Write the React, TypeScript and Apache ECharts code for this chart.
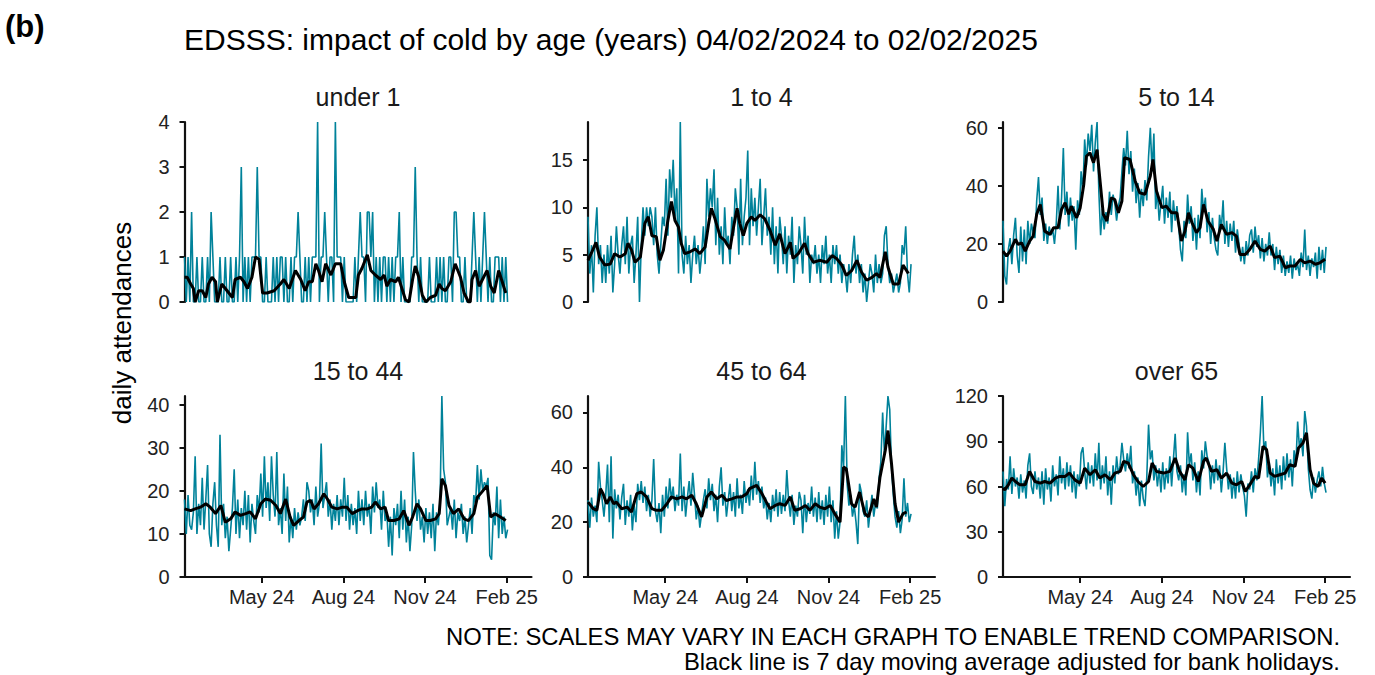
import React, { useEffect, useRef } from "react";
import * as echarts from "echarts";

// ---------- data ----------
const START_DATE = "2024-02-04";
const STEP_DAYS = 2; // daily series sampled every 2 days
const X_MAX_DAY = 391;
const X_TICK_DATES = ["2024-05-01", "2024-08-01", "2024-11-01", "2025-02-01"];
const MONTHS = ["Jan", "Feb", "Mar", "Apr", "May", "Jun", "Jul", "Aug", "Sep", "Oct", "Nov", "Dec"];

const PANEL_TITLES = ["under 1", "1 to 4", "5 to 14", "15 to 44", "45 to 64", "over 65"];
const Y_MAX = [4, 19, 62, 42, 66, 120];
const Y_TICKS = [
  [0, 1, 2, 3, 4],
  [0, 5, 10, 15],
  [0, 20, 40, 60],
  [0, 10, 20, 30, 40],
  [0, 20, 40, 60],
  [0, 30, 60, 90, 120],
];

const DAILY_UNDER_1 = [
  1, 0, 1, 0, 2, 0, 0, 1, 0, 0, 1, 0, 0, 1, 0, 2, 1, 0, 0, 0,
  1, 0, 0, 1, 0, 0, 1, 0, 0, 1, 0, 1, 3, 0, 1, 0, 1, 0, 1, 1,
  1, 3, 1, 1, 0, 0, 1, 0, 0, 0, 1, 0, 1, 0, 1, 1, 0, 1, 0, 0,
  1, 0, 1, 1, 2, 1, 0, 0, 1, 0, 1, 0, 1, 1, 1, 4, 0, 1, 1, 2,
  1, 0, 1, 1, 0, 4, 1, 1, 1, 0, 1, 0, 0, 0, 0, 0, 1, 0, 1, 2,
  1, 1, 0, 2, 2, 1, 2, 0, 1, 0, 1, 0, 1, 1, 0, 1, 0, 1, 0, 1,
  1, 2, 0, 1, 0, 0, 0, 0, 1, 1, 3, 1, 0, 1, 0, 0, 0, 0, 1, 0,
  0, 0, 1, 0, 1, 0, 1, 0, 0, 1, 1, 0, 2, 2, 1, 1, 0, 0, 1, 0,
  0, 0, 1, 2, 1, 0, 1, 0, 1, 2, 1, 0, 1, 0, 0, 1, 1, 1, 0, 1,
  0, 1, 0,
];
const DAILY_1_TO_4 = [
  9, 3, 6, 1, 7, 10, 4, 6, 2, 5, 2, 6, 3, 7, 1, 4, 8, 5, 3, 6,
  8, 4, 9, 3, 6, 7, 2, 5, 9, 0, 6, 10, 7, 10, 8, 10, 9, 6, 10, 5,
  3, 6, 9, 8, 13, 7, 14, 11, 15, 9, 12, 3, 19, 5, 3, 7, 4, 6, 2, 5,
  7, 4, 6, 3, 5, 8, 4, 13, 9, 12, 10, 14, 6, 11, 5, 8, 4, 10, 6, 7,
  4, 9, 7, 12, 10, 5, 13, 6, 9, 11, 16, 6, 12, 8, 11, 7, 10, 13, 6, 9,
  12, 7, 9, 5, 10, 4, 8, 3, 9, 7, 4, 8, 3, 7, 5, 9, 2, 6, 4, 8,
  6, 3, 9, 5, 7, 2, 5, 4, 6, 3, 5, 2, 6, 4, 7, 3, 5, 2, 6, 4,
  6, 3, 5, 2, 4, 3, 1, 4, 2, 5, 7, 3, 5, 2, 4, 1, 3, 0, 2, 4,
  3, 1, 5, 2, 4, 2, 3, 7, 8, 4, 2, 3, 1, 2, 3, 1, 2, 6, 5, 8,
  3, 1, 4,
];
const DAILY_5_TO_14 = [
  28, 9, 6, 18, 22, 13, 23, 29, 16, 10, 26, 14, 25, 13, 28, 20, 27, 24, 22, 35,
  43, 30, 36, 21, 27, 20, 26, 23, 25, 20, 27, 40, 25, 36, 53, 30, 38, 26, 36, 28,
  33, 18, 35, 30, 45, 38, 56, 47, 58, 52, 61, 45, 55, 62, 38, 23, 32, 25, 31, 27,
  38, 30, 37, 34, 28, 33, 36, 45, 53, 47, 59, 44, 52, 38, 46, 34, 41, 29, 39, 33,
  42, 35, 50, 60, 45, 58, 32, 38, 28, 34, 40, 27, 36, 29, 38, 24, 35, 28, 33, 26,
  18, 14, 28, 22, 37, 27, 33, 21, 29, 18, 30, 22, 39, 31, 36, 24, 31, 20, 29, 22,
  18, 16, 30, 25, 35, 20, 28, 19, 27, 21, 28, 17, 25, 20, 14, 19, 13, 21, 16, 23,
  25, 17, 26, 19, 23, 15, 22, 14, 20, 16, 24, 16, 20, 11, 19, 13, 18, 10, 16, 9,
  14, 10, 16, 8, 15, 11, 13, 9, 17, 12, 25, 11, 16, 9, 15, 12, 17, 8, 19, 11,
  18, 10, 19,
];
const DAILY_15_TO_44 = [
  18, 10, 19, 12, 11, 15, 28, 10, 17, 12, 23, 11, 18, 26, 10, 7, 17, 22, 12, 7,
  33, 12, 17, 9, 14, 6, 11, 16, 25, 10, 18, 9, 16, 12, 20, 11, 19, 8, 17, 13,
  10, 19, 15, 24, 14, 28, 16, 22, 13, 28, 19, 14, 29, 12, 16, 10, 24, 13, 21, 8,
  14, 9, 16, 11, 15, 12, 14, 18, 13, 22, 20, 15, 18, 12, 21, 14, 17, 31, 16, 19,
  22, 14, 18, 11, 17, 13, 19, 12, 18, 14, 23, 13, 19, 11, 17, 12, 16, 10, 20, 13,
  18, 12, 20, 14, 17, 10, 21, 15, 22, 16, 18, 11, 20, 13, 15, 7, 14, 5, 16, 12,
  17, 9, 20, 11, 18, 8, 14, 6, 12, 29, 20, 13, 18, 11, 14, 8, 16, 10, 15, 9,
  17, 6, 15, 12, 18, 42, 25, 22, 12, 14, 16, 11, 18, 9, 15, 13, 17, 10, 14, 8,
  12, 16, 10, 19, 17, 26, 18, 25, 20, 22, 21, 23, 5, 4, 15, 12, 21, 9, 18, 10,
  14, 9, 11,
];
const DAILY_45_TO_64 = [
  28, 18, 29, 22, 26, 20, 42, 33, 28, 22, 30, 41, 20, 44, 14, 32, 25, 30, 21, 29,
  34, 19, 28, 22, 30, 17, 26, 20, 34, 28, 35, 27, 33, 24, 30, 22, 28, 43, 24, 20,
  27, 16, 30, 22, 33, 25, 36, 28, 33, 24, 30, 26, 45, 24, 33, 22, 29, 35, 26, 38,
  30, 21, 26, 18, 23, 28, 32, 25, 36, 28, 34, 24, 30, 20, 33, 40, 26, 31, 22, 28,
  34, 24, 31, 22, 36, 25, 30, 23, 35, 27, 32, 26, 37, 28, 42, 30, 35, 27, 33, 25,
  29, 21, 27, 20, 30, 24, 32, 22, 31, 23, 30, 24, 39, 28, 22, 30, 19, 26, 22, 31,
  28, 16, 30, 20, 27, 23, 33, 22, 29, 20, 31, 21, 28, 19, 30, 22, 33, 20, 28, 14,
  24, 14, 20, 48, 40, 66, 34, 26, 30, 22, 26, 20, 12, 34, 31, 24, 22, 28, 18, 24,
  30, 22, 27, 25, 36, 42, 60, 45, 55, 66, 61, 40, 30, 22, 18, 24, 16, 21, 36, 22,
  27, 20, 23,
];
const DAILY_OVER_65 = [
  70, 47, 65, 58, 80, 55, 72, 60, 66, 52, 68, 56, 64, 52, 74, 82, 60, 55, 70, 58,
  66, 52, 70, 48, 72, 58, 66, 50, 74, 60, 68, 54, 80, 62, 72, 58, 76, 60, 74, 56,
  70, 52, 68, 60, 82, 86, 70, 58, 76, 62, 74, 60, 82, 64, 89, 58, 74, 62, 80, 54,
  70, 48, 74, 62, 80, 68, 74, 89, 78, 70, 82, 72, 87, 62, 70, 54, 66, 47, 64, 52,
  47, 66, 101, 78, 84, 64, 74, 60, 72, 56, 76, 58, 72, 62, 80, 60, 78, 95, 70, 64,
  74, 56, 68, 54, 96, 74, 82, 64, 76, 56, 70, 54, 84, 72, 90, 80, 76, 58, 74, 62,
  78, 64, 74, 56, 70, 89, 72, 58, 68, 52, 66, 52, 70, 56, 68, 60, 54, 40, 62, 58,
  70, 56, 72, 64, 78, 96, 120, 84, 90, 66, 76, 60, 72, 54, 78, 62, 74, 58, 80, 64,
  82, 66, 78, 60, 84, 74, 103, 86, 92, 80, 110, 100, 72, 58, 52, 66, 56, 64, 70, 60,
  73, 62, 56,
];

// 7 day moving average: [day since start, value]
const MA_UNDER_1 = [
  [0, 0.55], [3, 0.55], [7, 0.4], [10, 0.3], [12, 0.0], [16, 0.25], [20, 0.25], [24, 0.1], [27, 0.4], [31, 0.55],
  [35, 0.45], [37, 0.0], [42, 0.4], [48, 0.25], [54, 0.1], [57, 0.5], [63, 0.55], [67, 0.45], [71, 0.3], [76, 0.55],
  [80, 1.0], [84, 0.95], [88, 0.2], [93, 0.2], [101, 0.25], [108, 0.4], [112, 0.5], [118, 0.3], [125, 0.7], [131, 0.5],
  [136, 0.25], [140, 0.45], [144, 0.45], [148, 0.85], [151, 0.7], [155, 0.45], [159, 0.85], [165, 0.6], [170, 0.85], [176, 0.85],
  [180, 0.45], [185, 0.1], [193, 0.1], [196, 0.6], [200, 0.75], [206, 1.05], [210, 0.7], [215, 0.6], [221, 0.5], [225, 0.6],
  [228, 0.35], [232, 0.5], [238, 0.45], [241, 0.55], [245, 0.3], [249, 0.05], [253, 0.0], [257, 0.5], [260, 0.8], [264, 0.55],
  [268, 0.15], [272, 0.0], [277, 0.1], [283, 0.15], [287, 0.4], [290, 0.3], [294, 0.25], [300, 0.45], [305, 0.85], [311, 0.55],
  [315, 0.2], [320, 0.0], [322, 0.0], [324, 0.5], [328, 0.7], [332, 0.35], [337, 0.55], [341, 0.7], [345, 0.35], [349, 0.2],
  [354, 0.7], [358, 0.45], [362, 0.2],
];
const MA_1_TO_4 = [
  [0, 4.4], [4, 5.2], [9, 6.3], [13, 4.75], [19, 3.9], [25, 4.0], [30, 5.1], [36, 4.75], [42, 5.1], [45, 6.2],
  [49, 5.5], [53, 4.2], [59, 4.75], [64, 8.3], [68, 9.0], [72, 7.0], [77, 6.9], [81, 4.4], [85, 5.5], [90, 8.6],
  [94, 10.6], [98, 8.6], [102, 7.9], [105, 6.2], [109, 5.1], [115, 5.3], [121, 5.6], [126, 5.1], [132, 5.8], [136, 8.3],
  [139, 9.9], [143, 8.8], [149, 6.9], [154, 6.5], [160, 5.6], [164, 7.9], [168, 9.9], [171, 8.3], [175, 7.0], [179, 8.3],
  [184, 9.0], [188, 8.6], [194, 9.2], [199, 8.8], [205, 7.6], [211, 6.0], [216, 7.2], [222, 5.1], [228, 6.3], [231, 4.6],
  [237, 5.1], [244, 6.2], [248, 5.1], [254, 4.2], [261, 4.4], [269, 4.2], [275, 4.9], [280, 4.6], [286, 3.9], [291, 2.8],
  [297, 3.3], [303, 4.4], [308, 3.2], [314, 2.3], [320, 2.6], [325, 3.0], [329, 2.6], [335, 5.3], [338, 3.7], [344, 1.9],
  [350, 1.9], [355, 3.9], [361, 3.0],
];
const MA_5_TO_14 = [
  [0, 17.5], [4, 15.8], [8, 17.5], [14, 21.6], [17, 19.8], [21, 20.4], [25, 17.5], [30, 21.0], [34, 22.7], [38, 30.2],
  [42, 33.6], [47, 24.4], [53, 23.3], [57, 25.6], [62, 25.6], [66, 31.9], [70, 34.2], [74, 30.2], [77, 33.0], [83, 29.0],
  [87, 32.5], [91, 40.5], [94, 50.2], [98, 51.4], [102, 48.0], [106, 52.5], [109, 42.8], [113, 30.2], [117, 27.9], [122, 35.9],
  [126, 35.3], [130, 30.7], [134, 34.8], [137, 49.7], [143, 49.1], [149, 41.6], [154, 37.6], [160, 37.1], [166, 43.4], [169, 49.1],
  [173, 38.2], [179, 32.5], [184, 33.0], [190, 30.7], [196, 30.7], [201, 21.0], [205, 24.4], [209, 30.7], [213, 27.3], [218, 23.9],
  [222, 25.6], [226, 33.6], [231, 27.9], [237, 25.0], [241, 21.0], [246, 26.7], [252, 23.3], [258, 23.9], [263, 22.7], [267, 16.4],
  [273, 16.4], [278, 18.1], [284, 21.0], [290, 18.1], [295, 17.5], [301, 19.3], [306, 15.3], [312, 15.8], [318, 11.8], [323, 12.4],
  [329, 12.4], [335, 14.7], [340, 13.5], [346, 14.1], [352, 13.0], [357, 13.5], [363, 14.7],
];
const MA_15_TO_44 = [
  [0, 15.8], [7, 15.4], [12, 15.8], [18, 16.2], [24, 17.0], [29, 16.2], [35, 14.7], [41, 16.6], [46, 12.7], [52, 13.5],
  [57, 15.1], [63, 14.3], [69, 14.7], [74, 15.1], [80, 13.5], [86, 17.0], [91, 18.1], [97, 17.8], [103, 16.6], [108, 14.7],
  [114, 18.1], [119, 13.9], [123, 12.0], [129, 13.1], [134, 13.9], [138, 17.4], [142, 17.8], [146, 15.8], [151, 17.0], [157, 19.3],
  [161, 18.1], [166, 16.2], [172, 15.8], [178, 16.2], [183, 16.2], [189, 14.7], [195, 15.4], [200, 15.8], [206, 15.8], [211, 16.2],
  [215, 17.4], [221, 15.8], [226, 16.2], [230, 13.1], [236, 13.1], [242, 13.5], [247, 15.4], [253, 12.0], [257, 13.9], [262, 17.0],
  [266, 15.8], [272, 13.1], [277, 13.1], [283, 13.5], [287, 14.7], [290, 22.8], [294, 21.2], [298, 16.6], [303, 14.7], [309, 15.8],
  [315, 13.5], [320, 13.1], [326, 14.7], [330, 18.5], [335, 19.7], [341, 21.2], [345, 13.9], [350, 14.7], [356, 13.9], [362, 13.1],
];
const MA_45_TO_64 = [
  [0, 27.3], [6, 24.9], [10, 24.3], [14, 32.2], [17, 30.4], [21, 26.7], [25, 29.2], [29, 26.7], [32, 27.3], [38, 24.9],
  [44, 25.5], [49, 23.7], [55, 30.4], [60, 31.0], [66, 29.2], [72, 24.9], [77, 24.3], [83, 24.3], [89, 26.7], [94, 29.2],
  [100, 28.5], [106, 29.2], [111, 28.5], [117, 29.8], [122, 26.7], [128, 21.9], [134, 29.2], [139, 31.0], [145, 28.5], [151, 29.8],
  [156, 27.9], [162, 28.5], [168, 29.2], [173, 29.2], [179, 30.4], [182, 32.2], [190, 33.4], [196, 30.4], [201, 27.3], [205, 24.9],
  [211, 26.1], [216, 26.7], [222, 26.1], [228, 29.2], [233, 24.3], [239, 24.9], [245, 26.1], [250, 24.3], [256, 26.7], [261, 25.5],
  [267, 24.9], [273, 26.1], [278, 23.1], [284, 20.0], [288, 40.1], [291, 39.5], [297, 26.7], [301, 25.5], [306, 31.0], [312, 23.1],
  [316, 21.9], [322, 28.5], [325, 25.5], [329, 36.4], [335, 46.2], [338, 53.4], [342, 41.3], [346, 26.7], [350, 20.0], [355, 23.1],
  [359, 23.7],
];
const MA_OVER_65 = [
  [0, 58.9], [2, 57.8], [6, 61.1], [10, 65.6], [14, 63.3], [19, 61.1], [25, 61.1], [30, 70.0], [36, 63.3], [42, 62.2],
  [47, 63.3], [53, 62.2], [59, 65.6], [64, 66.7], [70, 66.7], [75, 68.9], [81, 64.4], [87, 62.2], [92, 72.2], [98, 67.8],
  [104, 71.1], [109, 65.6], [115, 67.8], [121, 64.4], [126, 68.9], [132, 70.0], [136, 76.7], [141, 75.6], [147, 67.8], [152, 63.3],
  [158, 60.0], [164, 63.3], [168, 75.6], [173, 70.0], [181, 68.9], [188, 70.0], [194, 78.9], [199, 70.0], [205, 64.4], [209, 74.4],
  [214, 72.2], [220, 63.3], [226, 76.7], [229, 78.9], [235, 70.0], [241, 71.1], [246, 65.6], [252, 68.9], [258, 62.2], [263, 61.1],
  [269, 63.3], [273, 56.7], [278, 61.1], [284, 66.7], [288, 65.6], [293, 86.7], [297, 84.4], [301, 68.9], [306, 66.7], [312, 67.8],
  [318, 68.9], [323, 74.4], [329, 73.3], [333, 85.6], [338, 88.9], [342, 95.6], [346, 71.1], [350, 62.2], [355, 60.0], [359, 65.6],
  [363, 62.2],
];

const DAILY = [DAILY_UNDER_1, DAILY_1_TO_4, DAILY_5_TO_14, DAILY_15_TO_44, DAILY_45_TO_64, DAILY_OVER_65];
const MOVING_AVG = [MA_UNDER_1, MA_1_TO_4, MA_5_TO_14, MA_15_TO_44, MA_45_TO_64, MA_OVER_65];

const TITLE = "EDSSS: impact of cold by age (years) 04/02/2024 to 02/02/2025";
const PANEL_LABEL = "(b)";
const Y_LABEL = "daily attendances";
const NOTE_1 = "NOTE: SCALES MAY VARY IN EACH GRAPH TO ENABLE TREND COMPARISON.";
const NOTE_2 = "Black line is 7 day moving average adjusted for bank holidays.";

// ---------- layout / style ----------
const FONT = "'Liberation Sans', Arial, Helvetica, sans-serif";
const TEAL = "#00829a";
const AXIS_COLOR = "#111";
const COL_LEFT = [184.5, 588, 1003];
const ROW_TOP = [122, 396];
const ROW_H = [180, 181];
const GRID_W = 347;

const DAY_MS = 86400000;
const startMs = Date.parse(START_DATE + "T00:00:00Z");
const dayOf = (d: string) => Math.round((Date.parse(d + "T00:00:00Z") - startMs) / DAY_MS);
const dayLabel = (v: number) => {
  const dt = new Date(startMs + v * DAY_MS);
  return MONTHS[dt.getUTCMonth()] + " " + String(dt.getUTCFullYear()).slice(2);
};

function buildOption() {
  const xTicks = X_TICK_DATES.map(dayOf);
  const grids: any[] = [];
  const xAxes: any[] = [];
  const yAxes: any[] = [];
  const series: any[] = [];
  const graphics: any[] = [];

  for (let k = 0; k < 6; k++) {
    const row = Math.floor(k / 3);
    const col = k % 3;
    grids.push({
      left: COL_LEFT[col],
      top: ROW_TOP[row],
      width: GRID_W,
      height: ROW_H[row],
      containLabel: false,
      outerBoundsMode: "none",
    });
    const bottomRow = row === 1;
    xAxes.push({
      type: "value",
      gridIndex: k,
      min: 0,
      max: X_MAX_DAY,
      show: bottomRow,
      axisLine: { show: bottomRow, onZero: false, lineStyle: { color: AXIS_COLOR, width: 2.2 } },
      axisTick: {
        show: bottomRow,
        length: 6,
        customValues: xTicks,
        lineStyle: { color: AXIS_COLOR, width: 2 },
      },
      axisLabel: {
        show: bottomRow,
        customValues: xTicks,
        formatter: (v: number) => dayLabel(v),
        fontFamily: FONT,
        fontSize: 20,
        color: "#222",
        margin: 10,
      },
      splitLine: { show: false },
    });
    yAxes.push({
      type: "value",
      gridIndex: k,
      min: 0,
      max: Y_MAX[k],
      axisLine: { show: true, onZero: false, lineStyle: { color: AXIS_COLOR, width: 2.2 } },
      axisTick: {
        show: true,
        length: 5,
        customValues: Y_TICKS[k],
        lineStyle: { color: AXIS_COLOR, width: 2 },
      },
      axisLabel: {
        customValues: Y_TICKS[k],
        fontFamily: FONT,
        fontSize: 20,
        color: "#222",
        margin: 15,
      },
      splitLine: { show: false },
    });
    series.push({
      type: "line",
      xAxisIndex: k,
      yAxisIndex: k,
      data: DAILY[k].map((v, i) => [i * STEP_DAYS, v]),
      symbol: "none",
      lineStyle: { color: TEAL, width: 1.6 },
      z: 2,
      silent: true,
    });
    series.push({
      type: "line",
      xAxisIndex: k,
      yAxisIndex: k,
      data: MOVING_AVG[k],
      symbol: "none",
      lineStyle: { color: "#000", width: 3 },
      z: 3,
      silent: true,
    });
    graphics.push({
      type: "text",
      x: COL_LEFT[col] + GRID_W / 2,
      y: row === 0 ? 97 : 371,
      style: {
        text: PANEL_TITLES[k],
        fontFamily: FONT,
        fontSize: 25,
        fill: "#1a1a1a",
        align: "center",
        verticalAlign: "middle",
      },
    });
  }

  graphics.push(
    {
      type: "text",
      x: 5,
      y: 26,
      style: { text: PANEL_LABEL, fontFamily: FONT, fontSize: 31, fontWeight: "bold", fill: "#000", align: "left", verticalAlign: "middle" },
    },
    {
      type: "text",
      x: 184,
      y: 39,
      style: { text: TITLE, fontFamily: FONT, fontSize: 30, fill: "#000", align: "left", verticalAlign: "middle" },
    },
    {
      type: "text",
      x: 122,
      y: 323,
      rotation: Math.PI / 2,
      style: { text: Y_LABEL, fontFamily: FONT, fontSize: 26, fill: "#000", align: "center", verticalAlign: "middle" },
    },
    {
      type: "text",
      x: 1340,
      y: 636,
      style: { text: NOTE_1, fontFamily: FONT, fontSize: 23.8, fill: "#000", align: "right", verticalAlign: "middle" },
    },
    {
      type: "text",
      x: 1340,
      y: 661,
      style: { text: NOTE_2, fontFamily: FONT, fontSize: 23.8, fill: "#000", align: "right", verticalAlign: "middle" },
    }
  );

  return {
    animation: false,
    backgroundColor: "#ffffff",
    grid: grids,
    xAxis: xAxes,
    yAxis: yAxes,
    series,
    graphic: graphics,
  };
}

export default function App() {
  const ref = useRef<HTMLDivElement>(null);
  useEffect(() => {
    if (!ref.current) return;
    const chart = echarts.init(ref.current, undefined, { renderer: "svg" });
    chart.setOption(buildOption() as any);
    return () => chart.dispose();
  }, []);
  return (
    <div
      ref={ref}
      style={{ position: "fixed", left: 0, top: 0, width: 1375, height: 675, background: "#fff" }}
    />
  );
}
